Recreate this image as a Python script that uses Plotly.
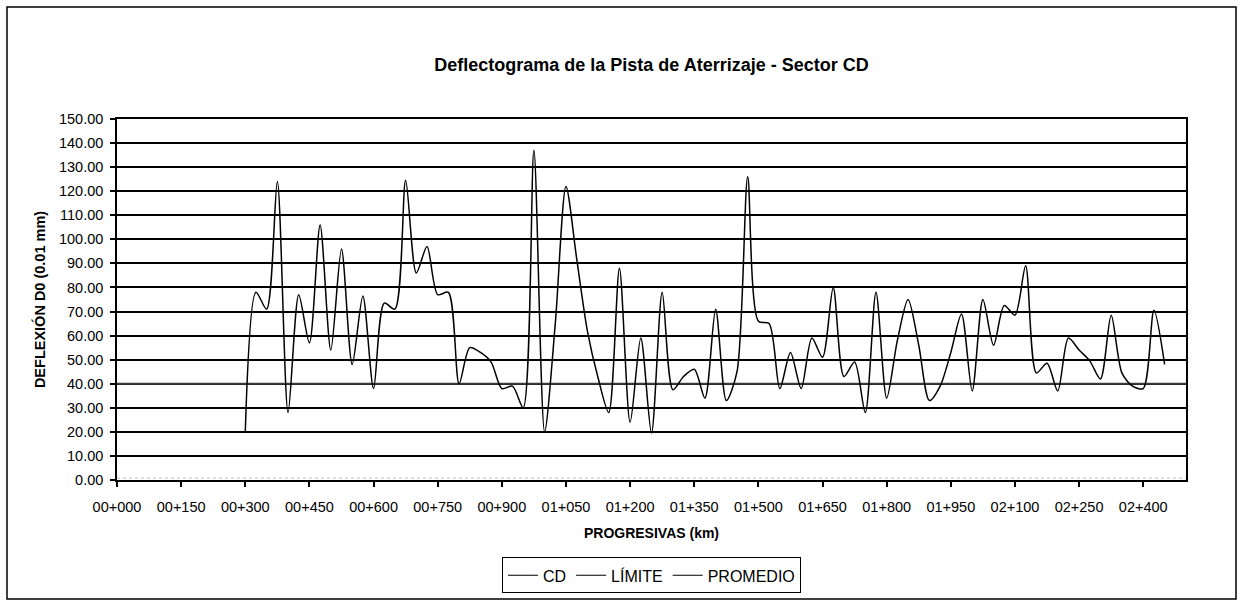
import plotly.graph_objects as go

# Progresivas (m) con lectura de deflexión, cada 25 m
progresivas = list(range(300, 2475, 25))

# Deflexión D0 del sector CD (0.01 mm)
deflexion_cd = [
    20, 78, 71, 124, 28, 77, 57, 106, 54, 96, 48, 76.5, 38, 73.5, 71, 124.5,
    86, 97, 77, 78, 40, 55, 53, 49, 38, 39, 30, 137, 20, 65, 122, 92, 62,
    42.5, 28, 88, 24, 59, 19.5, 78, 37.5, 43, 46, 34, 71, 33, 45, 126, 66,
    65, 38, 53, 38, 59, 51, 80, 43, 49, 28, 78, 34, 58, 75, 56, 33, 39, 53,
    69, 37, 75, 56, 72.5, 68.5, 89, 44.5, 48.5, 37, 59, 54, 49.5, 42, 68.5,
    44.5, 39, 38, 70.5, 48,
]

# Series horizontales de referencia a lo largo de todo el eje
tramo_total = [0, 2500]
limite = [40, 40]
promedio = [0.8, 0.8]

# Marcas del eje de progresivas
marcas_x = [0, 150, 300, 450, 600, 750, 900, 1050, 1200, 1350, 1500,
            1650, 1800, 1950, 2100, 2250, 2400]
etiquetas_x = ["00+000", "00+150", "00+300", "00+450", "00+600", "00+750",
               "00+900", "01+050", "01+200", "01+350", "01+500", "01+650",
               "01+800", "01+950", "02+100", "02+250", "02+400"]

FUENTE = 'Arial, "Liberation Sans", sans-serif'
W, H = 1241, 605
ML, MR, MT, MB = 117, 55, 119, 122
plot_w = W - ML - MR
plot_h = H - MT - MB


def px_x(x):
    return (x - ML) / plot_w


def px_y(y):
    return (H - MB - y) / plot_h


fig = go.Figure()

fig.add_trace(go.Scatter(
    x=tramo_total, y=limite, mode="lines", name="LÍMITE",
    line=dict(color="#3c3c3c", width=2.2), showlegend=False, hoverinfo="skip",
))
fig.add_trace(go.Scatter(
    x=tramo_total, y=promedio, mode="lines", name="PROMEDIO",
    line=dict(color="#bdbdbd", width=1, dash="dot"), showlegend=False,
    hoverinfo="skip",
))
fig.add_trace(go.Scatter(
    x=progresivas, y=deflexion_cd, mode="lines", name="CD",
    line=dict(color="black", width=1.5, shape="spline", smoothing=0.8),
    showlegend=False,
))

# Entradas de leyenda (muestras en negro)
for nombre in ["CD", "LÍMITE", "PROMEDIO"]:
    fig.add_trace(go.Scatter(
        x=[None], y=[None], mode="lines", name=nombre,
        line=dict(color="black", width=1.2),
    ))

fig.update_layout(
    width=W, height=H,
    margin=dict(l=ML, r=MR, t=MT, b=MB),
    paper_bgcolor="white", plot_bgcolor="white",
    font=dict(family=FUENTE, color="black", size=14),
    title=dict(
        text="<b>Deflectograma de la Pista de Aterrizaje - Sector CD</b>",
        x=0.5, xref="paper", xanchor="center",
        y=1 - 65 / H, yref="container", yanchor="middle",
        font=dict(size=18, family=FUENTE, color="black"),
    ),
    legend=dict(
        orientation="h", x=0.5, xanchor="center",
        y=px_y(561), yanchor="top",
        bordercolor="black", borderwidth=1, bgcolor="white",
        font=dict(size=16, family=FUENTE, color="black"),
        itemwidth=30,
    ),
    shapes=[
        dict(type="rect", xref="paper", yref="paper",
             x0=px_x(7), x1=px_x(1236), y0=px_y(603), y1=px_y(6),
             line=dict(color="black", width=1.5), layer="below"),
    ],
)

fig.update_xaxes(
    range=tramo_total,
    tickmode="array", tickvals=marcas_x, ticktext=etiquetas_x,
    ticks="outside", ticklen=5, tickwidth=1.5, tickcolor="black",
    ticklabelstandoff=8,
    showline=True, linecolor="black", linewidth=2, mirror=True,
    showgrid=False, zeroline=False,
    tickfont=dict(size=14.5, family=FUENTE, color="black"),
    title=dict(text="<b>PROGRESIVAS (km)</b>", standoff=14,
               font=dict(size=14, family=FUENTE, color="black")),
)

fig.update_yaxes(
    range=[0, 150], dtick=10, tickformat=".2f",
    ticks="outside", ticklen=5, tickwidth=1.5, tickcolor="black",
    ticklabelstandoff=4,
    showline=True, linecolor="black", linewidth=1.5, mirror=True,
    showgrid=True, gridcolor="black", gridwidth=1.8, zeroline=False,
    tickfont=dict(size=14.5, family=FUENTE, color="black"),
    title=dict(text="<b>DEFLEXIÓN D0 (0.01 mm)</b>", standoff=10,
               font=dict(size=14.5, family=FUENTE, color="black")),
)

fig.write_html("out.html")
